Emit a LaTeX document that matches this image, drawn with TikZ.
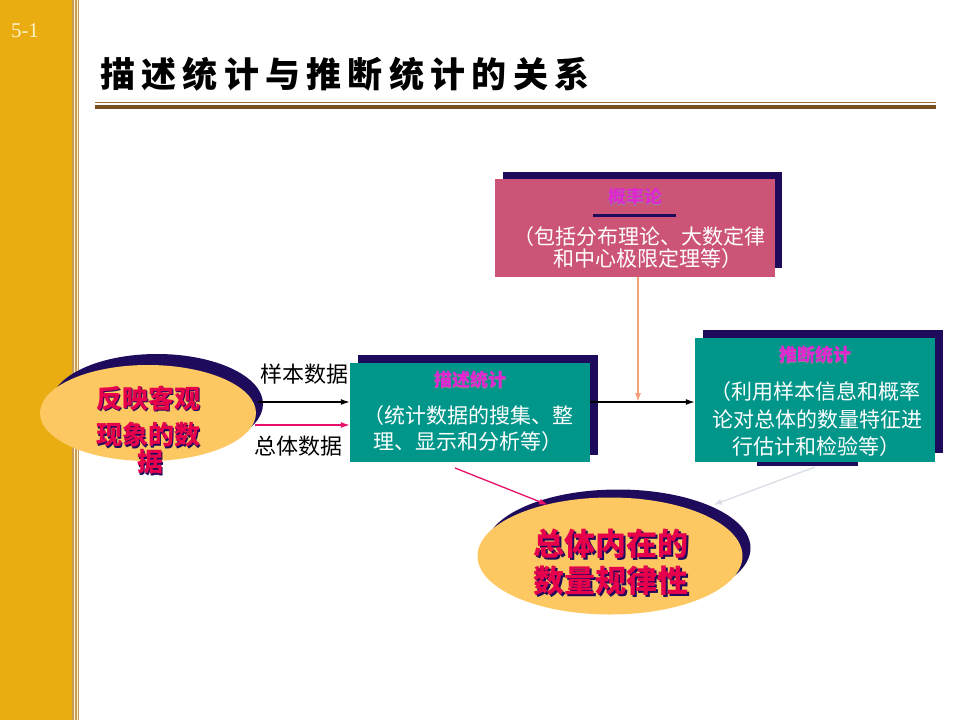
\documentclass[tikz,border=0pt]{standalone}
\usepackage{fontspec}
\setmainfont{Noto Sans CJK SC}
\newfontfamily\titlefont{Noto Sans CJK SC}[LetterSpace=18]
\newfontfamily\latinserif{Liberation Serif}
\usetikzlibrary{shapes.geometric,arrows.meta}
\definecolor{gold}{HTML}{E9AD12}
\definecolor{tan}{HTML}{C89B5A}
\definecolor{cream}{HTML}{FFF3C8}
\definecolor{brownA}{HTML}{A0703A}
\definecolor{brownB}{HTML}{7A4E22}
\definecolor{navy}{HTML}{1E0B5C}
\definecolor{rosebox}{HTML}{CC5577}
\definecolor{tealbox}{HTML}{00968A}
\definecolor{magtitle}{HTML}{E025D2}
\definecolor{ellfill}{HTML}{FDC862}
\definecolor{redtext}{HTML}{E6004C}
\definecolor{orangearr}{HTML}{F5A27A}
\definecolor{pinkarr}{HTML}{E8106A}
\definecolor{grayarr}{HTML}{DCDCE6}
\begin{document}
\begin{tikzpicture}[x=1pt,y=-1pt,
  shadowbox/.style={fill=navy, draw=none, inner sep=0, rectangle},
  frontbox/.style={draw=none, inner sep=0, rectangle},
  wtext/.style={text=white, font=\fontsize{21}{24}\selectfont, inner sep=0},
  boxtitle/.style={text=magtitle, font=\bfseries\fontsize{18}{20}\selectfont, inner sep=0},
  boxtitlesh/.style={text=black!45, font=\bfseries\fontsize{18}{20}\selectfont, inner sep=0},
  elltext/.style={text=redtext, font=\bfseries\fontsize{26}{30}\selectfont, inner sep=0},
  elltextsh/.style={text=navy, font=\bfseries\fontsize{26}{30}\selectfont, inner sep=0},
  bigtext/.style={text=redtext, font=\bfseries\fontsize{31}{36}\selectfont, inner sep=0},
  bigtextsh/.style={text=navy, font=\bfseries\fontsize{31}{36}\selectfont, inner sep=0},
  lbl/.style={text=black, font=\fontsize{22}{24}\selectfont, inner sep=0},
  ell/.style={ellipse, draw=none, inner sep=0},
  arr/.style={-{Latex[length=9pt,width=6pt]}, line width=1.3pt},
]
\useasboundingbox (0,0) rectangle (960,720);
\fill[white] (0,0) rectangle (960,720);
% sidebar
\fill[gold] (0,0) rectangle (72,720);
\fill[tan] (72,0) rectangle (73.6,720);
\fill[cream] (73.6,0) rectangle (75,720);
\fill[tan] (75,0) rectangle (76.6,720);
\fill[cream] (76.6,0) rectangle (77.6,720);
\fill[tan] (77.6,0) rectangle (79.2,720);
\node[text=cream, font=\latinserif\fontsize{21}{24}\selectfont, inner sep=0] (pg) at (25,31) {5-1};
% title
\node[anchor=west, font=\titlefont\bfseries\fontsize{35}{38}\selectfont, inner sep=0] (title) at (100,74) {描述统计与推断统计的关系};
\fill[brownA] (95,101.8) rectangle (936,103.2);
\fill[brownB] (95,105) rectangle (936,108.5);

% probability box
\node[shadowbox, minimum width=279, minimum height=96] (probsh) at (642.5,220) {};
\node[frontbox, fill=rosebox, minimum width=280, minimum height=98] (prob) at (635,228) {};
\node[boxtitlesh] (probtsh) at (635.8,197.8) {概率论};
\node[boxtitle] (probt) at (635,197) {概率论};
\fill[navy] (593,213.5) rectangle (676,216.5);
\node[wtext] (probl1) at (639,237) {（包括分布理论、大数定律};
\node[wtext] (probl2) at (648,259) {和中心极限定理等）};

% descriptive box
\node[shadowbox, minimum width=240, minimum height=100] (descsh) at (478,405) {};
\node[frontbox, fill=tealbox, minimum width=240, minimum height=99] (desc) at (470,412.5) {};
\node[boxtitlesh] (desctsh) at (470.8,380.8) {描述统计};
\node[boxtitle] (desct) at (470,380) {描述统计};
\node[wtext, anchor=west] (descl1) at (363,416) {（统计数据的搜集、整};
\node[wtext, anchor=west] (descl2) at (373,442) {理、显示和分析等）};

% inferential box
\node[shadowbox, minimum width=240, minimum height=123] (infsh) at (823,391.5) {};
\node[frontbox, fill=tealbox, minimum width=240, minimum height=124] (inf) at (815,400) {};
\node[shadowbox, minimum width=101, minimum height=4] (infbar) at (807.5,464) {};
\node[boxtitlesh] (inftsh) at (815.8,355.8) {推断统计};
\node[boxtitle] (inft) at (815,355) {推断统计};
\node[wtext] (infl1) at (815,392) {（利用样本信息和概率};
\node[wtext] (infl2) at (817,420) {论对总体的数量特征进};
\node[wtext] (infl3) at (816,447) {行估计和检验等）};

% left ellipse
\node[ell, fill=navy, minimum width=212, minimum height=100] (datash) at (157,404) {};
\node[ell, fill=ellfill, minimum width=216, minimum height=96] (data) at (148,413) {};
\node[elltextsh] (d1s) at (149.5,399.5) {反映客观};
\node[elltext] (d1) at (148,398) {反映客观};
\node[elltextsh] (d2s) at (149.5,436.5) {现象的数};
\node[elltext] (d2) at (148,435) {现象的数};
\node[elltextsh] (d3s) at (151.5,463.5) {据};
\node[elltext] (d3) at (150,462) {据};

% bottom ellipse
\node[ell, fill=navy, minimum width=265, minimum height=117] (lawsh) at (618,548) {};
\node[ell, fill=ellfill, minimum width=265, minimum height=117] (law) at (610,556) {};
\node[bigtextsh] (l1s) at (612.5,545.5) {总体内在的};
\node[bigtext] (l1) at (611,544) {总体内在的};
\node[bigtextsh] (l2s) at (612.5,582.5) {数量规律性};
\node[bigtext] (l2) at (611,581) {数量规律性};

% labels
\node[lbl] (sample) at (304,374) {样本数据};
\node[lbl] (pop) at (298,446) {总体数据};

% connectors
\coordinate (s1) at (258,402);
\coordinate (s2) at (255,425);
\coordinate (t1) at (638,402);
\draw[arr, black] (s1) -- ([yshift=10.5pt]desc.west);
\draw[arr, pinkarr] (s2) -- ([yshift=-12.5pt]desc.west);
\draw[arr, black] ([yshift=10.5pt]desc.east) -- ([yshift=-2pt]inf.west);
\draw[arr, orangearr] ([xshift=3pt]prob.south) -- (t1);
\coordinate (p0) at (455,468);
\coordinate (p1) at (548,505);
\draw[arr, pinkarr] (p0) -- (p1);
\coordinate (g0) at (815,467);
\coordinate (g1) at (713,505);
\draw[arr, grayarr] (g0) -- (g1);
\end{tikzpicture}
\end{document}
